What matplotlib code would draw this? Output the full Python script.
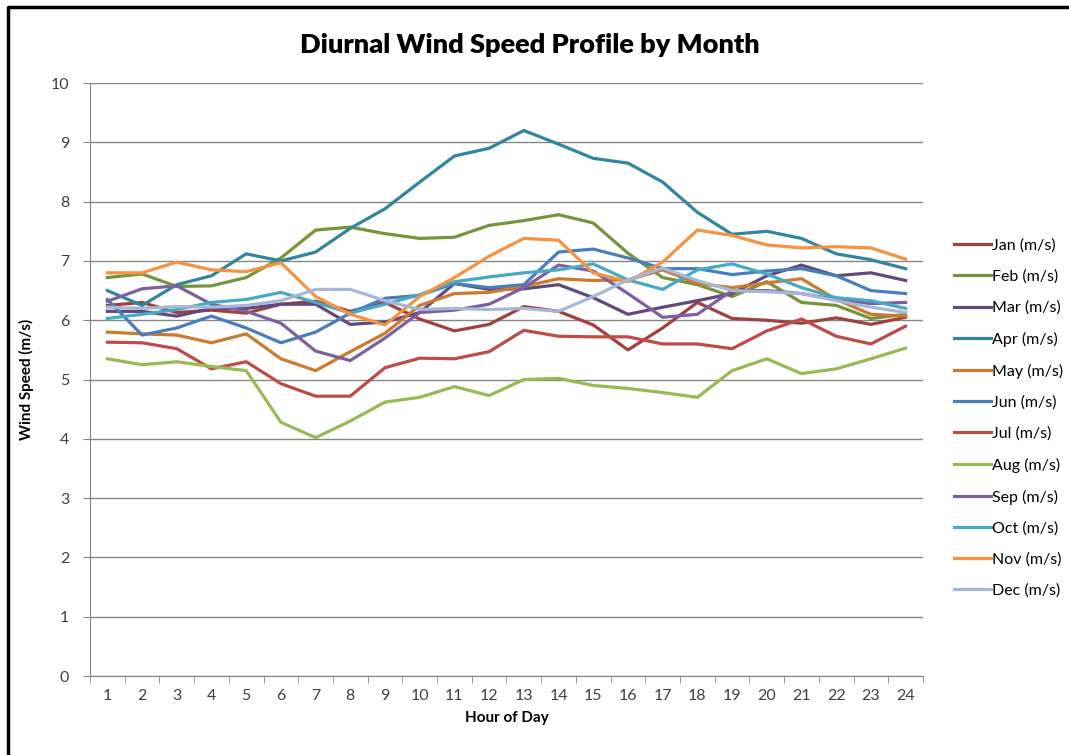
import numpy as np
import matplotlib.pyplot as plt
from matplotlib.lines import Line2D

plt.rcParams['font.family'] = ['Lato', 'DejaVu Sans']

hours = list(range(1, 25))

jan = [6.25, 6.30, 6.13, 6.17, 6.12, 6.27, 6.32, 6.15, 6.30, 6.02, 5.82, 5.93,
       6.23, 6.15, 5.92, 5.50, 5.87, 6.30, 6.03, 6.00, 5.95, 6.04, 5.93, 6.05]
feb = [6.72, 6.78, 6.57, 6.58, 6.72, 7.05, 7.52, 7.57, 7.46, 7.38, 7.40, 7.60,
       7.68, 7.78, 7.64, 7.13, 6.72, 6.60, 6.40, 6.65, 6.30, 6.25, 6.03, 6.10]
mar = [6.15, 6.15, 6.07, 6.20, 6.20, 6.27, 6.27, 5.93, 5.97, 6.13, 6.62, 6.52,
       6.53, 6.60, 6.38, 6.10, 6.22, 6.33, 6.45, 6.75, 6.93, 6.75, 6.80, 6.67]
apr = [6.50, 6.25, 6.60, 6.75, 7.12, 7.00, 7.15, 7.55, 7.88, 8.33, 8.77, 8.90,
       9.20, 8.97, 8.73, 8.65, 8.33, 7.82, 7.45, 7.50, 7.38, 7.12, 7.02, 6.87]
may = [5.80, 5.77, 5.75, 5.62, 5.77, 5.35, 5.15, 5.47, 5.78, 6.25, 6.45, 6.47,
       6.57, 6.70, 6.67, 6.68, 6.85, 6.62, 6.55, 6.63, 6.70, 6.35, 6.10, 6.07]
jun = [6.35, 5.75, 5.87, 6.07, 5.87, 5.62, 5.80, 6.12, 6.37, 6.42, 6.62, 6.55,
       6.60, 7.15, 7.20, 7.05, 6.87, 6.87, 6.77, 6.83, 6.87, 6.75, 6.50, 6.45]
jul = [5.63, 5.62, 5.52, 5.18, 5.30, 4.93, 4.72, 4.72, 5.20, 5.36, 5.35, 5.47,
       5.83, 5.73, 5.72, 5.72, 5.60, 5.60, 5.52, 5.82, 6.02, 5.73, 5.60, 5.90]
aug = [5.35, 5.25, 5.30, 5.22, 5.15, 4.28, 4.02, 4.30, 4.62, 4.70, 4.88, 4.73,
       5.00, 5.02, 4.90, 4.85, 4.78, 4.70, 5.15, 5.35, 5.10, 5.18, 5.35, 5.53]
sep = [6.32, 6.53, 6.58, 6.27, 6.15, 5.95, 5.48, 5.32, 5.70, 6.13, 6.17, 6.27,
       6.55, 6.93, 6.83, 6.45, 6.05, 6.10, 6.50, 6.50, 6.45, 6.35, 6.28, 6.30]
oct_ = [6.03, 6.10, 6.18, 6.30, 6.35, 6.47, 6.30, 6.12, 6.27, 6.43, 6.65, 6.73,
        6.80, 6.85, 6.95, 6.68, 6.52, 6.85, 6.95, 6.78, 6.55, 6.38, 6.33, 6.20]
nov = [6.80, 6.80, 6.98, 6.85, 6.82, 6.97, 6.40, 6.10, 5.92, 6.40, 6.72, 7.08,
       7.38, 7.35, 6.80, 6.65, 6.98, 7.52, 7.43, 7.27, 7.22, 7.24, 7.22, 7.03]
dec = [6.22, 6.20, 6.23, 6.22, 6.25, 6.33, 6.52, 6.52, 6.33, 6.18, 6.20, 6.18,
       6.20, 6.15, 6.40, 6.68, 6.88, 6.67, 6.50, 6.48, 6.45, 6.33, 6.22, 6.13]

labels = ['Jan (m/s)', 'Feb (m/s)', 'Mar (m/s)', 'Apr (m/s)', 'May (m/s)', 'Jun (m/s)',
          'Jul (m/s)', 'Aug (m/s)', 'Sep (m/s)', 'Oct (m/s)', 'Nov (m/s)', 'Dec (m/s)']
series = [jan, feb, mar, apr, may, jun, jul, aug, sep, oct_, nov, dec]
colors = ['#A0413F', '#77933C', '#604A7B', '#31859C', '#CB7A2E', '#4A7EBB',
          '#BE4B48', '#98B954', '#7D60A0', '#46AAC5', '#F69240', '#A6B7D8']

fig = plt.figure(figsize=(10.69, 7.55), dpi=100)
ax = fig.add_axes([0.0842, 0.1046, 0.7792, 0.7854])

for vals, lab, c in zip(series, labels, colors):
    ax.plot(hours, vals, color=c, lw=2.3, label=lab)

ax.set_xlim(0.5, 24.5)
ax.set_ylim(0, 10)
ax.set_yticks(range(0, 11))
ax.set_xticks(hours)
ax.set_xticks(np.arange(0.5, 25, 1), minor=True)
ax.tick_params(axis='x', which='major', length=0, pad=9, labelsize=11.5, colors='#404040')
ax.tick_params(axis='x', which='minor', length=5, color='#868686')
ax.tick_params(axis='y', length=5, color='#868686', pad=10, labelsize=11.5, labelcolor='#404040')
ax.grid(axis='y', color='#868686', lw=1)
ax.set_axisbelow(True)
for s in ['top', 'right']:
    ax.spines[s].set_visible(False)
for s in ['left', 'bottom']:
    ax.spines[s].set_color('#868686')

ax.set_xlabel('Hour of Day', fontsize=11, fontweight='bold', labelpad=6)
ax.set_ylabel('Wind Speed (m/s)', fontsize=11, fontweight='bold', labelpad=12)
fig.text(0.496, 0.94, 'Diurnal Wind Speed Profile by Month', fontsize=19.5,
         fontweight='heavy', ha='center', va='center')

fig.legend(loc='upper left', bbox_to_anchor=(0.879, 0.703), frameon=False,
           fontsize=11.5, handlelength=2.3, handletextpad=0.1, labelspacing=1.05)

# chart frame: only left and top edges show in the crop
fig.add_artist(Line2D([0.0075, 0.0075, 1.0], [0.0, 0.9905, 0.9905],
                      transform=fig.transFigure, color='black', lw=2.5))

plt.savefig('out.png', dpi=100)
